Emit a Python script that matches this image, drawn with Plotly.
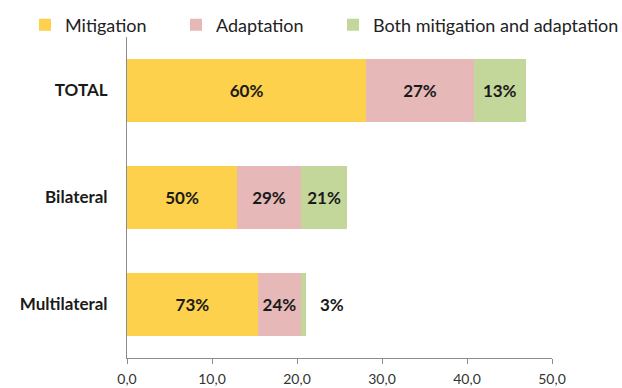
import plotly.graph_objects as go

# Climate finance by channel: totals and share of each purpose (%)
channels = ["TOTAL", "Bilateral", "Multilateral"]
totals = [46.9, 25.9, 21.1]
mitigation_pct = [60, 50, 73]
adaptation_pct = [27, 29, 24]
both_pct = [13, 21, 3]
x_ticks = [0, 10, 20, 30, 40, 50]
x_tick_labels = ["0,0", "10,0", "20,0", "30,0", "40,0", "50,0"]

series = [
    ("Mitigation", mitigation_pct, "#FDD14B"),
    ("Adaptation", adaptation_pct, "#E6B8B7"),
    ("Both mitigation and adaptation", both_pct, "#C4D79B"),
]
# one single-entry legend per series, laid out in a row above the plot
legend_ids = ["legend", "legend2", "legend3"]
legend_left_px = [25, 176, 333]

FONT = "Lato, Open Sans, sans-serif"
TEXT_DARK = "#1a1a1a"
W, H = 622, 388
M_L, M_R, M_T, M_B = 127, 70, 37, 30
plot_w = W - M_L - M_R

fig = go.Figure()
for (name, pcts, color), lg in zip(series, legend_ids):
    vals = [t * p / 100 for t, p in zip(totals, pcts)]
    labels = [f"{p}%" if p >= 5 else "" for p in pcts]
    fig.add_trace(go.Bar(
        y=channels, x=vals, name=name, orientation="h", legend=lg,
        marker=dict(color=color, line=dict(width=0)),
        text=labels, textposition="inside", insidetextanchor="middle",
        textfont=dict(family=FONT, size=17, color=TEXT_DARK, weight="bold"),
        width=0.58,
    ))

# Small shares are labelled just past the end of the bar
for ch, t, p in zip(channels, totals, both_pct):
    if p < 5:
        fig.add_annotation(
            x=t, y=ch, text=f"{p}%", showarrow=False,
            xanchor="left", xshift=12,
            font=dict(family=FONT, size=17, color=TEXT_DARK, weight="bold"),
        )

legend_style = dict(
    xref="paper", yref="paper", y=1.095, xanchor="left", yanchor="top",
    font=dict(family=FONT, size=18, color="#222"),
    itemwidth=30, bgcolor="rgba(0,0,0,0)",
)
legends = {
    lg: dict(legend_style, x=(px - M_L) / plot_w)
    for lg, px in zip(legend_ids, legend_left_px)
}

fig.update_layout(
    width=W, height=H,
    barmode="stack",
    plot_bgcolor="white", paper_bgcolor="white",
    margin=dict(l=M_L, r=M_R, t=M_T, b=M_B, autoexpand=False),
    font=dict(family=FONT, color="#222"),
    showlegend=True,
    **legends,
)
fig.update_xaxes(
    range=[0, 50], tickvals=x_ticks, ticktext=x_tick_labels,
    showgrid=False, zeroline=False,
    showline=True, linecolor="#8c8c8c", linewidth=1,
    ticks="outside", ticklen=5, tickcolor="#8c8c8c",
    tickfont=dict(family=FONT, size=14, color="#333"),
    ticklabelstandoff=3,
)
fig.update_yaxes(
    categoryorder="array", categoryarray=channels[::-1],
    showgrid=False, zeroline=False,
    showline=True, linecolor="#8c8c8c", linewidth=1,
    ticks="", ticklabelstandoff=15,
    tickfont=dict(family=FONT, size=17, color=TEXT_DARK, weight="bold"),
)

fig.write_html("out.html")
